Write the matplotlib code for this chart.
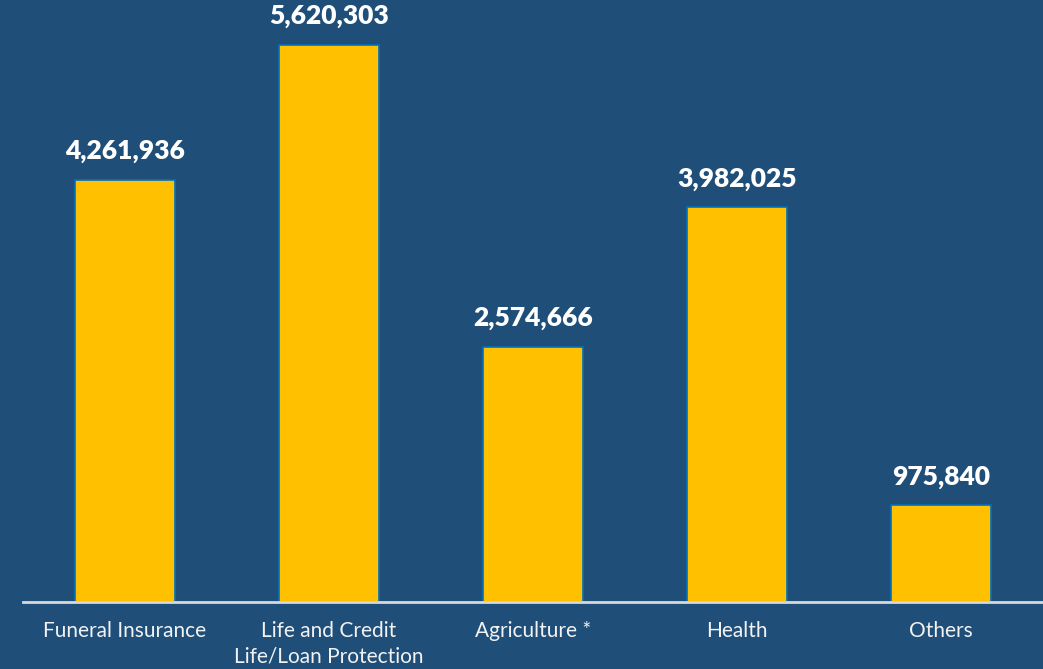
import matplotlib
matplotlib.use("Agg")
import matplotlib.pyplot as plt

# data
categories = ["Funeral Insurance", "Life and Credit\nLife/Loan Protection",
              "Agriculture *", "Health", "Others"]
values = [4261936, 5620303, 2574666, 3982025, 975840]

bg = "#1F4E79"
bar_color = "#FFC000"
edge_color = "#0070C0"

plt.rcParams['font.family'] = ['Lato', 'DejaVu Sans']

fig = plt.figure(figsize=(10.43, 6.69), dpi=100, facecolor=bg)
ax = fig.add_axes([23 / 1043, 67 / 669, 1020 / 1043, 602 / 669])
ax.set_facecolor(bg)

x = range(len(categories))
bars = ax.bar(x, values, width=0.49, color=bar_color, edgecolor=edge_color, linewidth=1.2)

for b, v in zip(bars, values):
    ax.annotate(f"{v:,}", (b.get_x() + b.get_width() / 2, v),
                xytext=(0, 12), textcoords="offset points",
                ha="center", va="bottom", color="white",
                fontsize=19, fontweight="heavy")

ax.set_xlim(-0.5, 4.5)
ax.set_ylim(0, 6.075e6)
ax.set_xticks(list(x))
ax.set_xticklabels(categories, color="#F2F2F2", fontsize=15, linespacing=1.3)
ax.tick_params(axis="x", length=0, pad=14)
ax.set_yticks([])

for side in ["top", "right", "left"]:
    ax.spines[side].set_visible(False)
ax.spines["bottom"].set_color("#D9D9D9")
ax.spines["bottom"].set_linewidth(2)

fig.savefig("out.png", dpi=100, facecolor=bg)
